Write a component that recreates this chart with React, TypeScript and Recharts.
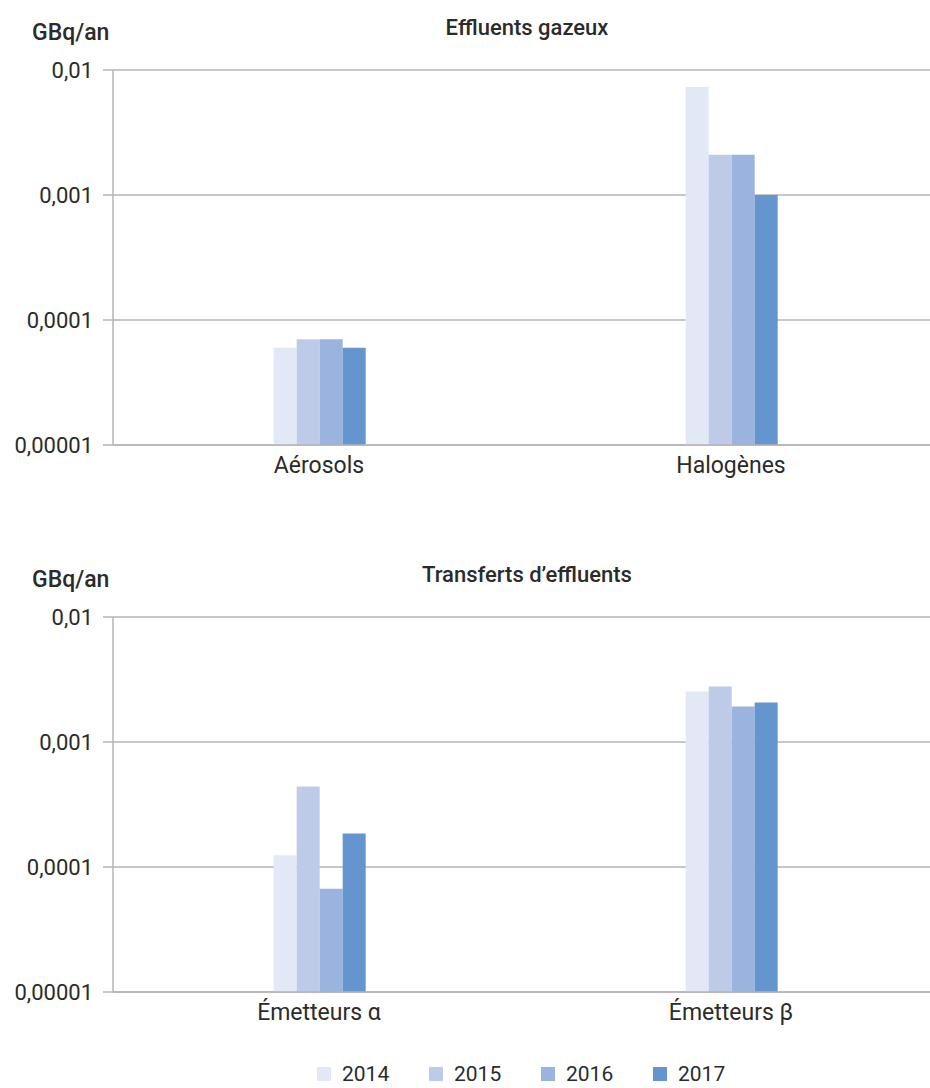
import { BarChart, Bar, XAxis, YAxis, CartesianGrid } from "recharts"

const years = ["2014", "2015", "2016", "2017"]
const colors = ["#E2E8F5", "#BECBE8", "#9AB3DF", "#6495CF"]

const gazCategories = ["Aérosols", "Halogènes"]
const gaz2014 = [0.00006, 0.0073]
const gaz2015 = [0.00007, 0.0021]
const gaz2016 = [0.00007, 0.0021]
const gaz2017 = [0.00006, 0.001]

const transCategories = ["Émetteurs α", "Émetteurs β"]
const trans2014 = [0.000124, 0.00253]
const trans2015 = [0.00044, 0.00278]
const trans2016 = [0.000067, 0.00192]
const trans2017 = [0.000185, 0.00207]

const yTicks = [0.00001, 0.0001, 0.001, 0.01]

const FONT = "Roboto, 'DejaVu Sans', sans-serif"
const GRID = "#B5B5B5"
const TEXT = "#2B2B2B"

function buildRows(cats: string[], series: number[][]) {
  return cats.map((c, i) => {
    const row: Record<string, string | number> = { category: c }
    years.forEach((y, k) => {
      row["y" + y] = series[k][i]
    })
    return row
  })
}

const gazData = buildRows(gazCategories, [gaz2014, gaz2015, gaz2016, gaz2017])
const transData = buildRows(transCategories, [trans2014, trans2015, trans2016, trans2017])

function fmt(v: number) {
  return String(v).replace(".", ",")
}

function Panel({ title, data, top }: { title: string; data: Record<string, string | number>[]; top: number }) {
  return (
    <div style={{ position: "absolute", left: 0, top, width: 930, height: 490 }}>
      <div
        style={{
          position: "absolute",
          left: 32,
          top: 19,
          fontSize: 23,
          fontWeight: 500,
          color: TEXT,
          lineHeight: "28px",
        }}
      >
        GBq/an
      </div>
      <div
        style={{
          position: "absolute",
          left: 0,
          width: 1054,
          top: 14,
          textAlign: "center",
          fontSize: 22,
          fontWeight: 500,
          color: TEXT,
          lineHeight: "28px",
        }}
      >
        {title}
      </div>
      <BarChart
        width={937}
        height={490}
        data={data}
        margin={{ top: 70, right: 0, bottom: 0, left: 0 }}
        barCategoryGap="39%"
        barGap={0}
      >
        <CartesianGrid vertical={false} stroke={GRID} strokeWidth={1.5} />
        <XAxis
          dataKey="category"
          axisLine={{ stroke: GRID, strokeWidth: 1.5 }}
          tickLine={false}
          height={45}
          tick={{ fill: TEXT, fontSize: 23, fontFamily: FONT, dy: 4 }}
        />
        <YAxis
          scale="log"
          domain={[0.00001, 0.01]}
          ticks={yTicks}
          allowDataOverflow
          width={113}
          tickSize={10}
          tickMargin={10}
          axisLine={{ stroke: GRID, strokeWidth: 1.5 }}
          tickLine={{ stroke: GRID, strokeWidth: 1.5 }}
          tickFormatter={fmt}
          tick={{ fill: TEXT, fontSize: 22, fontFamily: FONT }}
        />
        {years.map((y, k) => (
          <Bar key={y} dataKey={"y" + y} fill={colors[k]} isAnimationActive={false} />
        ))}
      </BarChart>
    </div>
  )
}

export default function App() {
  return (
    <div
      style={{
        position: "absolute",
        left: 0,
        top: 0,
        width: 930,
        height: 1088,
        overflow: "hidden",
        background: "#fff",
        fontFamily: FONT,
      }}
    >
      <Panel title="Effluents gazeux" data={gazData} top={0} />
      <Panel title="Transferts d’effluents" data={transData} top={547} />
      {years.map((y, k) => (
        <div
          key={y}
          style={{
            position: "absolute",
            left: 317 + k * 112,
            top: 1062,
            display: "flex",
            alignItems: "center",
            fontSize: 21,
            color: TEXT,
            lineHeight: "24px",
          }}
        >
          <span
            style={{ width: 14, height: 14, background: colors[k], display: "inline-block", marginRight: 11 }}
          />
          {y}
        </div>
      ))}
    </div>
  )
}
